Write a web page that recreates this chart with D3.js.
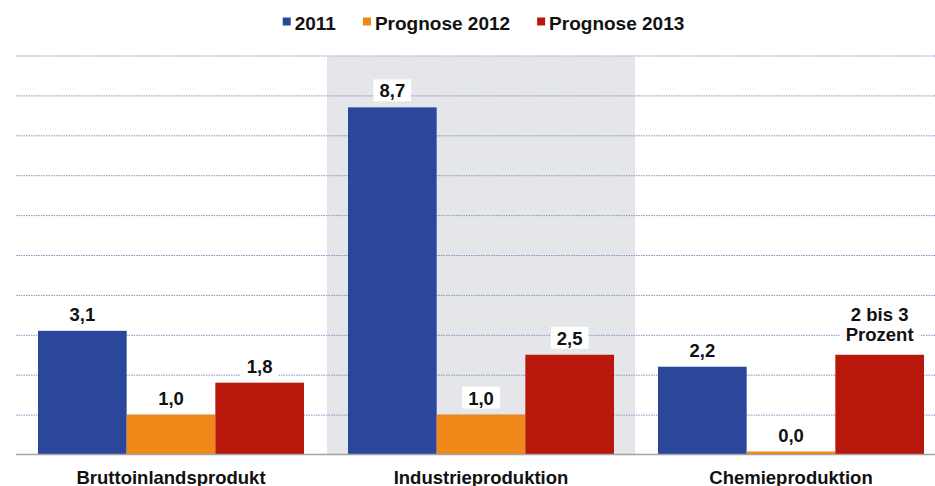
<!DOCTYPE html>
<html>
<head>
<meta charset="utf-8">
<script src="https://cdn.jsdelivr.net/npm/d3@7"></script>
<style>
  html, body { margin: 0; padding: 0; background: #fff; }
  svg { display: block; }
  text { font-family: "Liberation Sans", Arial, sans-serif; font-weight: bold; fill: #111; }
</style>
</head>
<body>
<svg id="chart" width="935" height="486"></svg>
<script>
// ---- data ----
const categories = ["Bruttoinlandsprodukt", "Industrieproduktion", "Chemieproduktion"];
const seriesNames = ["2011", "Prognose 2012", "Prognose 2013"];
const values2011 = [3.1, 8.7, 2.2];
const values2012 = [1.0, 1.0, 0.0];
const values2013 = [1.8, 2.5, 2.5];
const labels2013 = ["1,8", "2,5", "2 bis 3\nProzent"];
const highlightCategory = "Industrieproduktion";
const yTicks = [1, 2, 3, 4, 5, 6, 7, 8, 9, 10];

// ---- styles ----
const colors = { "2011": "#2b479c", "Prognose 2012": "#f08819", "Prognose 2013": "#b8180c" };
const fontSize = 18.5;

const seriesValues = [values2011, values2012, values2013];
const seriesLabels = [
  values2011.map(v => d3.format(".1f")(v).replace(".", ",")),
  values2012.map(v => d3.format(".1f")(v).replace(".", ",")),
  labels2013
];

const svg = d3.select("#chart");
const W = 935, H = 486;

const y = d3.scaleLinear().domain([0, 10]).range([454.5, 55.5]);
const x0 = d3.scaleBand().domain(categories).range([16, 946]).padding(0);
const x1 = d3.scaleBand().domain(seriesNames).range([22, x0.bandwidth() - 22]).padding(0);

// highlight background
svg.append("rect")
  .attr("x", x0(highlightCategory) + 1)
  .attr("y", y(10) + 1)
  .attr("width", x0.bandwidth() - 2)
  .attr("height", y(0) - y(10) - 1)
  .attr("fill", "#e4e6e9");

// gridlines
const grid = svg.append("g")
  .attr("transform", `translate(16,0)`)
  .call(d3.axisRight(y).tickValues(yTicks).tickSize(W - 16).tickFormat(""));
grid.select(".domain").remove();
grid.selectAll(".tick line")
  .attr("stroke", "#8c90c2")
  .attr("stroke-width", 1)
  .attr("stroke-dasharray", "1.5,1");

// bars
const groups = svg.append("g").selectAll("g")
  .data(categories)
  .join("g")
  .attr("transform", d => `translate(${x0(d)},0)`);

const barData = (c, ci) => seriesNames.map((s, si) => ({
  s, v: seriesValues[si][ci], label: seriesLabels[si][ci]
}));

groups.each(function(c, ci) {
  const g = d3.select(this);
  const data = barData(c, ci);
  g.selectAll("rect.bar")
    .data(data)
    .join("rect")
    .attr("class", "bar")
    .attr("x", d => x1(d.s))
    .attr("width", x1.bandwidth())
    .attr("y", d => Math.min(y(d.v), y(0) - 3))
    .attr("height", d => Math.max(y(0) - y(d.v), 3))
    .attr("fill", d => colors[d.s]);

  // value labels with white boxes
  data.forEach(d => {
    const lines = d.label.split("\n");
    const cx = x1(d.s) + x1.bandwidth() / 2;
    const top = Math.min(y(d.v), y(0) - 3);
    const lineH = 20.5;
    const lastBase = top - (lines.length > 1 ? 13.5 : 10);
    const lg = g.append("g");
    const t = lg.append("text")
      .attr("text-anchor", "middle")
      .style("font-size", fontSize + "px");
    lines.forEach((ln, i) => {
      t.append("tspan")
        .attr("x", cx)
        .attr("y", lastBase - (lines.length - 1 - i) * lineH)
        .text(ln);
    });
    const bb = t.node().getBBox();
    lg.insert("rect", "text")
      .attr("x", bb.x - 6)
      .attr("y", bb.y - 1)
      .attr("width", bb.width + 12)
      .attr("height", bb.height + 1)
      .attr("fill", "#fff");
  });
});

// baseline
svg.append("line")
  .attr("x1", 16).attr("x2", W)
  .attr("y1", y(0)).attr("y2", y(0))
  .attr("stroke", "#a3a3a3")
  .attr("stroke-width", 1.5);

// category axis
const xAxis = svg.append("g")
  .attr("transform", `translate(0,${y(0)})`)
  .call(d3.axisBottom(x0).tickSize(0).tickPadding(0));
xAxis.select(".domain").remove();
xAxis.selectAll(".tick text")
  .attr("dy", null)
  .attr("y", 29)
  .attr("fill", "#111")
  .style("font-size", fontSize + "px")
  .style("font-family", '"Liberation Sans", Arial, sans-serif')
  .style("font-weight", "bold");

// legend
const legend = svg.append("g");
let lx = 0;
seriesNames.forEach((s, i) => {
  const it = legend.append("g").attr("transform", `translate(${lx},0)`);
  it.append("rect").attr("x", 0).attr("y", 17.5).attr("width", 8).attr("height", 8).attr("fill", colors[s]);
  const tx = it.append("text").attr("x", 12).attr("y", 30).style("font-size", "19px").text(s);
  const w = 12 + tx.node().getComputedTextLength();
  lx += w + 27;
});
const totalW = lx - 27;
legend.attr("transform", `translate(${483.5 - totalW / 2},0)`);
</script>
</body>
</html>
